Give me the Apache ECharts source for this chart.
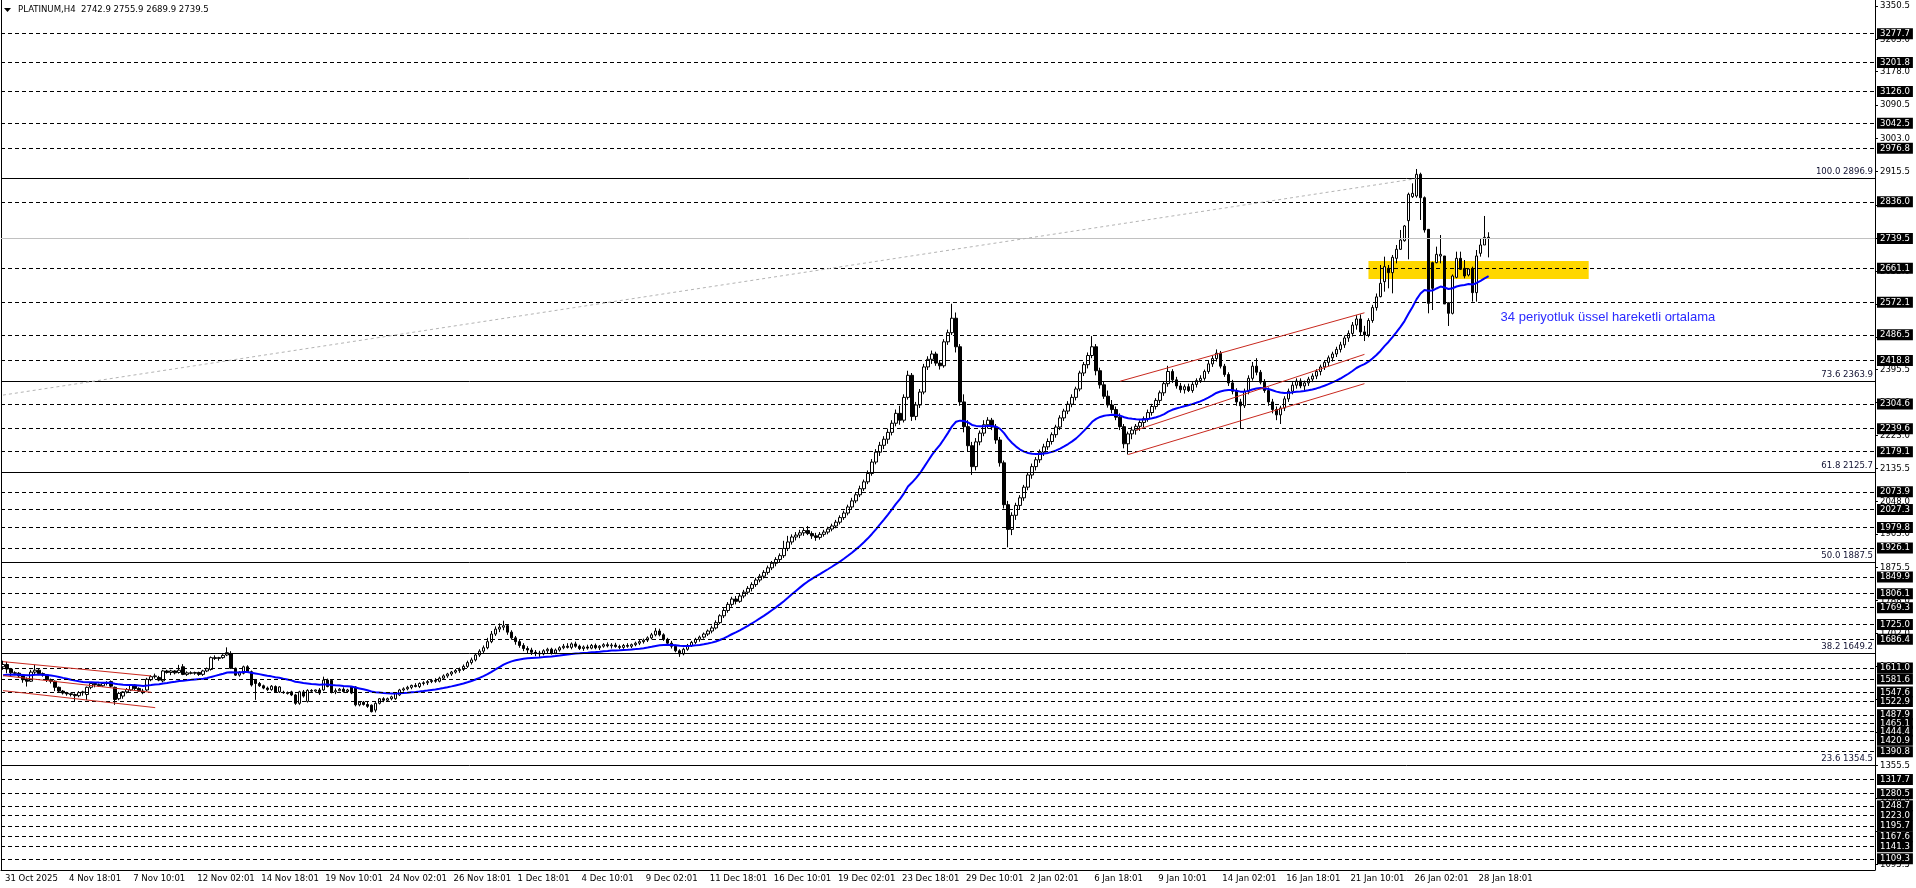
<!DOCTYPE html>
<html><head><meta charset="utf-8">
<script src="https://cdn.jsdelivr.net/npm/echarts@6/dist/echarts.min.js"></script>
<style>html,body{margin:0;padding:0;background:#fff}#c{width:1916px;height:888px}</style>
</head><body><div id="c"></div>
<script>
const titleText = 'PLATINUM,H4  2742.9 2755.9 2689.9 2739.5';
const xLabels = ['31 Oct 2025','4 Nov 18:01','7 Nov 10:01','12 Nov 02:01','14 Nov 18:01','19 Nov 10:01','24 Nov 02:01','26 Nov 18:01','1 Dec 18:01','4 Dec 10:01','9 Dec 02:01','11 Dec 18:01','16 Dec 10:01','19 Dec 02:01','23 Dec 18:01','29 Dec 10:01','2 Jan 02:01','6 Jan 18:01','9 Jan 10:01','14 Jan 02:01','16 Jan 18:01','21 Jan 10:01','26 Jan 02:01','28 Jan 18:01'];
const yTicks = [3350.5,3263.0,3178.0,3090.5,3003.0,2915.5,2828.0,2740.5,2653.0,2568.0,2480.5,2395.5,2308.0,2223.0,2135.5,2048.0,1963.0,1875.5,1788.0,1702.0,1615.0,1527.5,1442.5,1355.5,1268.0,1183.0,1095.5];
const levels = [3277.7,3201.8,3126.0,3042.5,2976.8,2836.0,2661.1,2572.1,2486.5,2418.8,2304.6,2239.6,2179.1,2073.9,2027.3,1979.8,1926.1,1849.9,1806.1,1769.3,1725.0,1686.4,1611.0,1581.6,1547.6,1522.9,1487.9,1465.1,1444.4,1420.9,1390.8,1317.7,1280.5,1248.7,1223.0,1195.7,1167.6,1141.3,1109.3];
const fibNames = ['100.0','73.6','61.8','50.0','38.2','23.6'];
const fibValues = [2896.9,2363.9,2125.7,1887.5,1649.2,1354.5];
const currentPrice = 2739.5;
// H4 bars [open, high, low, close]
const barsNov = [[1614,1630,1606,1620],[1620,1627,1597,1608],[1608,1611,1589,1598],[1598,1602,1592,1597],[1597,1600,1585,1590],[1590,1592,1572,1580],[1580,1586,1562,1576],[1576,1606,1574,1600],[1600,1619,1595,1605],[1605,1608,1592,1596],
[1596,1599,1588,1592],[1592,1593,1574,1580],[1580,1583,1570,1576],[1576,1578,1550,1560],[1560,1562,1546,1550],[1550,1553,1541,1545],[1545,1548,1538,1543],[1543,1546,1536,1541],[1541,1544,1522,1538],[1538,1550,1534,1546],
[1546,1551,1538,1548],[1541,1562,1527,1560],[1560,1572,1555,1570],[1570,1573,1560,1567],[1567,1570,1561,1564],[1564,1574,1561,1570],[1570,1576,1565,1572],[1575,1578,1560,1563],[1560,1562,1514,1528],[1530,1548,1526,1544],
[1537,1550,1530,1548],[1548,1558,1544,1554],[1553,1568,1550,1566],[1566,1568,1553,1557],[1557,1560,1548,1550],[1550,1556,1542,1546],[1553,1585,1550,1581],[1580,1592,1576,1588],[1588,1596,1583,1590],[1586,1590,1576,1579],
[1577,1606,1573,1603],[1603,1606,1596,1599],[1599,1606,1592,1603],[1603,1605,1594,1598],[1599,1619,1596,1605],[1614,1621,1592,1594],[1594,1602,1590,1598],[1598,1602,1594,1597],[1597,1601,1593,1599],[1599,1601,1590,1594],
[1594,1606,1590,1603],[1603,1612,1600,1609],[1607,1641,1604,1638],[1638,1644,1632,1636],[1636,1640,1630,1638],[1638,1647,1635,1644],[1645,1665,1642,1651],[1649,1655,1608,1610],[1610,1612,1590,1592],[1592,1602,1588,1600],
[1597,1617,1594,1614],[1614,1618,1600,1601],[1601,1604,1562,1566],[1579,1582,1527,1570],[1570,1574,1561,1564],[1564,1567,1555,1558],[1558,1562,1550,1554],[1554,1566,1551,1563],[1562,1565,1546,1548],[1548,1563,1545,1561],
[1547,1551,1543,1546],[1546,1549,1541,1544],[1548,1551,1537,1540],[1540,1543,1514,1518],[1518,1551,1514,1548],[1548,1553,1533,1537],[1523,1555,1520,1552],[1552,1555,1547,1550],[1550,1554,1546,1553],[1553,1558,1540,1545],
[1553,1588,1550,1579],[1579,1583,1560,1562],[1578,1581,1544,1548],[1548,1557,1542,1551],[1551,1558,1550,1555],[1555,1560,1546,1549],[1549,1556,1545,1553],[1561,1563,1542,1545],[1561,1563,1510,1514],[1514,1523,1510,1521],
[1521,1524,1512,1515],[1515,1522,1506,1510],[1513,1515,1494,1496],[1500,1521,1494,1518],[1518,1532,1515,1530],[1530,1534,1521,1526],[1526,1533,1522,1530],[1530,1538,1526,1535],[1530,1546,1527,1544],[1540,1556,1537,1553]];
const barsDec = [[1553,1560,1549,1556],[1556,1564,1552,1560],[1560,1567,1555,1565],[1565,1571,1560,1562],[1562,1573,1558,1570],[1570,1576,1565,1572],[1572,1579,1566,1575],[1575,1582,1571,1578],[1578,1584,1572,1576],[1576,1588,1573,1584],
[1584,1594,1580,1590],[1590,1598,1585,1595],[1595,1603,1590,1600],[1600,1608,1596,1604],[1604,1612,1598,1607],[1607,1620,1603,1615],[1615,1630,1611,1625],[1625,1638,1620,1632],[1632,1650,1628,1645],[1645,1660,1640,1655],
[1655,1670,1650,1664],[1664,1690,1660,1680],[1680,1708,1676,1700],[1700,1720,1695,1713],[1713,1728,1705,1718],[1718,1735,1710,1722],[1722,1726,1698,1705],[1705,1710,1685,1690],[1690,1695,1672,1680],[1680,1686,1664,1670],
[1670,1676,1655,1662],[1662,1668,1650,1658],[1658,1664,1645,1652],[1652,1658,1642,1650],[1650,1656,1640,1648],[1648,1660,1644,1656],[1656,1664,1650,1660],[1660,1664,1646,1650],[1650,1662,1647,1658],[1658,1668,1654,1664],
[1664,1674,1660,1668],[1668,1676,1662,1665],[1665,1678,1660,1674],[1674,1680,1664,1668],[1668,1672,1658,1662],[1662,1670,1656,1666],[1666,1672,1659,1663],[1663,1674,1660,1670],[1670,1675,1660,1664],[1664,1671,1658,1668],
[1668,1676,1664,1672],[1672,1678,1665,1669],[1669,1676,1662,1671],[1671,1677,1664,1667],[1667,1672,1660,1665],[1665,1674,1661,1670],[1670,1676,1664,1668],[1668,1675,1663,1672],[1672,1680,1668,1676],[1676,1684,1671,1680],
[1680,1688,1675,1684],[1684,1694,1679,1690],[1690,1703,1686,1698],[1698,1716,1694,1708],[1708,1714,1694,1698],[1698,1702,1682,1686],[1686,1690,1672,1676],[1676,1682,1662,1668],[1668,1672,1652,1656],[1656,1660,1640,1648],
[1648,1664,1644,1660],[1660,1674,1656,1670],[1670,1682,1666,1678],[1678,1690,1674,1686],[1686,1696,1680,1692],[1692,1704,1688,1700],[1700,1712,1695,1708],[1708,1722,1702,1716],[1716,1736,1712,1730],[1730,1752,1726,1748],
[1748,1768,1742,1762],[1762,1784,1756,1778],[1778,1798,1772,1792],[1792,1800,1778,1786],[1786,1806,1782,1800],[1800,1816,1794,1810],[1810,1826,1804,1820],[1820,1836,1812,1830],[1830,1848,1824,1842],[1842,1858,1836,1852],
[1852,1868,1846,1862],[1862,1880,1856,1874],[1874,1892,1868,1886],[1886,1902,1878,1896],[1896,1912,1888,1906],[1906,1945,1900,1925],[1925,1958,1918,1942],[1942,1962,1935,1955],[1955,1968,1946,1960],[1960,1974,1952,1966],
[1966,1980,1958,1972],[1972,1984,1960,1964],[1964,1970,1950,1958],[1958,1966,1945,1954],[1954,1968,1948,1962],[1962,1974,1956,1968],[1968,1982,1962,1976],[1976,1990,1970,1984],[1984,2000,1978,1994],[1994,2012,1988,2006],
[2006,2024,2000,2018],[2018,2040,2012,2034],[2034,2058,2028,2050],[2050,2072,2044,2066],[2066,2090,2060,2082],[2082,2106,2076,2100],[2100,2130,2094,2122],[2122,2160,2116,2152],[2152,2186,2146,2178],[2178,2205,2168,2196],
[2196,2220,2186,2212],[2212,2240,2200,2230],[2230,2262,2222,2254],[2254,2290,2246,2280],[2280,2300,2250,2262],[2262,2330,2256,2322],[2322,2392,2316,2380],[2380,2386,2260,2272],[2272,2310,2262,2302],[2302,2344,2294,2336],
[2336,2410,2330,2402],[2402,2430,2394,2422],[2422,2445,2410,2436],[2436,2442,2405,2412],[2412,2420,2395,2405],[2405,2475,2400,2468],[2468,2500,2460,2492],[2492,2568,2486,2530],[2530,2545,2440,2455],[2455,2462,2300,2310],
[2310,2330,2230,2245],[2245,2262,2180,2195],[2195,2205,2118,2140],[2140,2215,2130,2205],[2205,2235,2196,2228]];
const barsJan = [[2228,2262,2220,2250],[2250,2270,2240,2262],[2262,2268,2236,2244],[2244,2252,2200,2210],[2210,2218,2140,2150],[2150,2156,2030,2040],[2040,2050,1928,1975],[1975,2020,1960,2012],[2012,2045,2000,2038],[2038,2065,2026,2058],
[2058,2092,2050,2086],[2086,2125,2078,2118],[2118,2148,2108,2140],[2140,2165,2130,2158],[2158,2185,2150,2178],[2178,2200,2168,2192],[2192,2214,2184,2206],[2206,2230,2198,2224],[2224,2250,2216,2244],[2244,2275,2236,2268],
[2268,2292,2260,2286],[2286,2312,2278,2304],[2304,2330,2296,2322],[2322,2350,2314,2344],[2344,2392,2338,2386],[2386,2415,2378,2408],[2408,2440,2398,2432],[2432,2483,2425,2455],[2455,2462,2380,2392],[2392,2400,2345,2355],
[2355,2365,2318,2325],[2325,2340,2295,2302],[2302,2315,2280,2290],[2290,2298,2262,2270],[2270,2280,2236,2245],[2245,2252,2188,2200],[2200,2232,2172,2226],[2226,2245,2212,2236],[2236,2252,2224,2246],[2246,2262,2234,2256],
[2256,2272,2244,2266],[2266,2290,2258,2282],[2282,2305,2274,2298],[2298,2320,2290,2314],[2314,2340,2306,2334],[2334,2365,2326,2358],[2358,2405,2350,2390],[2390,2396,2360,2368],[2368,2376,2345,2352],[2352,2360,2334,2342],
[2342,2356,2332,2350],[2350,2358,2336,2340],[2340,2362,2334,2356],[2356,2372,2348,2366],[2366,2380,2360,2372],[2372,2395,2366,2390],[2390,2418,2384,2410],[2410,2432,2402,2424],[2424,2448,2416,2438],[2438,2444,2398,2404],
[2404,2410,2376,2382],[2382,2388,2352,2360],[2360,2368,2330,2338],[2338,2346,2300,2310],[2310,2318,2240,2300],[2300,2345,2294,2338],[2338,2380,2330,2372],[2372,2415,2366,2404],[2404,2425,2380,2388],[2388,2394,2356,2362],
[2362,2370,2334,2340],[2340,2348,2300,2310],[2310,2318,2280,2290],[2290,2298,2262,2276],[2276,2300,2252,2294],[2294,2325,2286,2318],[2318,2345,2310,2338],[2338,2362,2330,2354],[2354,2372,2345,2365],[2365,2372,2346,2352],
[2352,2366,2340,2360],[2360,2376,2352,2370],[2370,2385,2362,2378],[2378,2396,2370,2390],[2390,2408,2380,2402],[2402,2420,2394,2414],[2414,2432,2404,2426],[2426,2442,2416,2436],[2436,2455,2428,2448],[2448,2468,2440,2460],
[2460,2485,2452,2478],[2478,2498,2468,2490],[2490,2520,2482,2512],[2512,2538,2500,2528],[2528,2540,2485,2494],[2494,2510,2470,2486],[2486,2530,2480,2524],[2524,2565,2518,2558],[2558,2595,2550,2586],
[2586.7,2669.9,2585.0,2621.7],[2626.1,2691.8,2599.8,2665.5],[2661.1,2669.9,2608.6,2649.7],[2649.7,2696.2,2595.4,2690.1],[2687.4,2722.5,2674.3,2711.1],[2711.1,2761.9,2709.3,2735.6],[2733.8,2775.0,2731.2,2772.4],[2786.4,2860.0,2684.8,2855.6],[2849.5,2884.5,2846.0,2858.2],[2851.2,2922.2,2846.8,2908.2],
[2908.2,2912.5,2788.1,2846.8],[2846.8,2850.0,2755.0,2761.9],[2763.6,2763.6,2542.9,2569.1],[2676.0,2678.6,2551.6,2608.6],[2676.0,2718.1,2674.3,2697.9],[2693.6,2748.7,2674.3,2697.9],[2693.6,2693.6,2567.4,2567.4],[2570.9,2570.9,2509.6,2542.9],[2542.9,2645.0,2540.0,2641.0],[2637.5,2704.9,2634.8,2687.4],
[2687.4,2704.9,2656.7,2658.5],[2661.1,2683.0,2634.8,2641.0],[2643.6,2662.0,2640.0,2659.4],[2661.1,2665.5,2573.5,2597.2],[2597.2,2709.3,2573.5,2693.6],[2700.6,2740.0,2691.8,2722.5],[2722.5,2798.7,2722.5,2742.6],[2742.9,2755.9,2689.9,2739.5]];
const emaSeed = 1592;
const channelDown = [[[0,1627.5],[37,1589.8]],[[0,1590.7],[37,1546.9]],[[0,1551.3],[38,1506.6]]];
const channelUp = [[[279,2364.5],[340,2544.3]],[[283,2236],[340,2435]],[[281,2171.8],[340,2358]]];
const fibTrend = [[0,2328],[353,2896.9]];
const zoneRect = [[341,2680.4],[396,2633.1]];
const emaNote = {text:'34 periyotluk üssel hareketli ortalama', at:[374,2533]};

const FONT = "'DejaVu Sans Condensed','DejaVu Sans',sans-serif";
const FS = 9.5;
const NCAT = 468;
const cats = []; for (let i=0;i<NCAT;i++) cats.push(String(i));
const ohlc = barsNov.concat(barsDec, barsJan);
const candleData = ohlc.map(b=>[b[0],b[3],b[2],b[1]]);
const k = 2/35; const ema=[]; let e=emaSeed;
ohlc.forEach((b,i)=>{ e = i===0 ? emaSeed : e + k*(b[3]-e); ema.push(+e.toFixed(2)); });

const boxLabel = (t)=>({show:true,position:'end',distance:2,formatter:t,backgroundColor:'#000',color:'#fff',fontSize:FS,fontFamily:FONT,padding:[1,3,0,3],lineHeight:10});
const ml = [];
levels.forEach(v=>ml.push({yAxis:v, lineStyle:{color:'#000',type:[4,3],width:1}, label:boxLabel(v.toFixed(1))}));
ml.push({yAxis:currentPrice, lineStyle:{color:'#c0c0c0',type:'solid',width:1}, label:boxLabel(currentPrice.toFixed(1))});
fibValues.forEach((v,i)=>ml.push({yAxis:v, lineStyle:{color:'#000',type:'solid',width:1},
  label:{show:true,position:'insideEndTop',distance:2,formatter:fibNames[i]+' '+v.toFixed(1),color:'#101030',fontSize:FS,fontFamily:FONT}}));
channelDown.concat(channelUp).forEach(s=>ml.push([{coord:s[0],lineStyle:{color:'#c8281e',type:'solid',width:1},label:{show:false}},{coord:s[1]}]));
ml.push([{coord:fibTrend[0],lineStyle:{color:'#b4b4b4',type:[3,3],width:1},label:{show:false}},{coord:fibTrend[1]}]);

const chart = echarts.init(document.getElementById('c'),null,{renderer:'canvas'});
chart.setOption({
  animation:false,
  backgroundColor:'#fff',
  grid:{left:1,right:41,top:0,bottom:18,containLabel:false},
  graphic:[
    {type:'polygon',shape:{points:[[4,8],[11,8],[7.5,12]]},style:{fill:'#000'}},
    {type:'text',left:18,top:5,style:{text:titleText,fontSize:FS,fontFamily:FONT,fill:'#000'}}
  ],
  xAxis:{type:'category',data:cats,boundaryGap:true,
    axisLine:{lineStyle:{color:'#000'}},
    axisTick:{alignWithLabel:true,length:4,interval:(i)=>i%16===0&&i/16<xLabels.length,lineStyle:{color:'#000'}},
    axisLabel:{interval:(i)=>i%16===0&&i/16<xLabels.length,formatter:(v,i)=>xLabels[i/16]||'',align:'left',padding:[0,0,0,2],margin:4,fontSize:FS,fontFamily:FONT,color:'#000'},
    splitLine:{show:false}},
  yAxis:[{type:'value',position:'right',min:1079.9,max:3366.3,
    axisLine:{show:true,lineStyle:{color:'#000'}},
    axisTick:{show:true,length:3,customValues:yTicks,lineStyle:{color:'#000'}},
    axisLabel:{customValues:yTicks,formatter:(v)=>v.toFixed(1),color:'#000',fontSize:FS,fontFamily:FONT,margin:5},
    splitLine:{show:false}},
    {type:'value',position:'left',min:1079.9,max:3366.3,axisLine:{show:true,lineStyle:{color:'#000'}},axisTick:{show:false},axisLabel:{show:false},splitLine:{show:false}}],
  series:[
    {type:'line',name:'zone',data:[],z:1,clip:false,silent:true,
      markArea:{silent:true,itemStyle:{color:'#ffd700'},data:[[{coord:zoneRect[0]},{coord:zoneRect[1]}]]}},
    {type:'line',name:'levels',data:[],z:2,clip:false,silent:true,
      markLine:{silent:true,symbol:['none','none'],animation:false,data:ml}},
    {type:'candlestick',name:'PLATINUM',data:candleData,barWidth:3,z:3,silent:true,
      itemStyle:{color:'#fff',color0:'#000',borderColor:'#000',borderColor0:'#000',borderWidth:1}},
    {type:'line',name:'EMA34',data:ema,z:4,showSymbol:false,silent:true,lineStyle:{color:'#0000ff',width:2},
      markPoint:{silent:true,symbolSize:0,data:[{coord:emaNote.at,label:{show:true,position:'right',distance:0,formatter:emaNote.text,color:'#2a2aff',fontSize:13,fontFamily:"'Liberation Sans',Arial,sans-serif"}}]}}
  ]
});
</script></body></html>
